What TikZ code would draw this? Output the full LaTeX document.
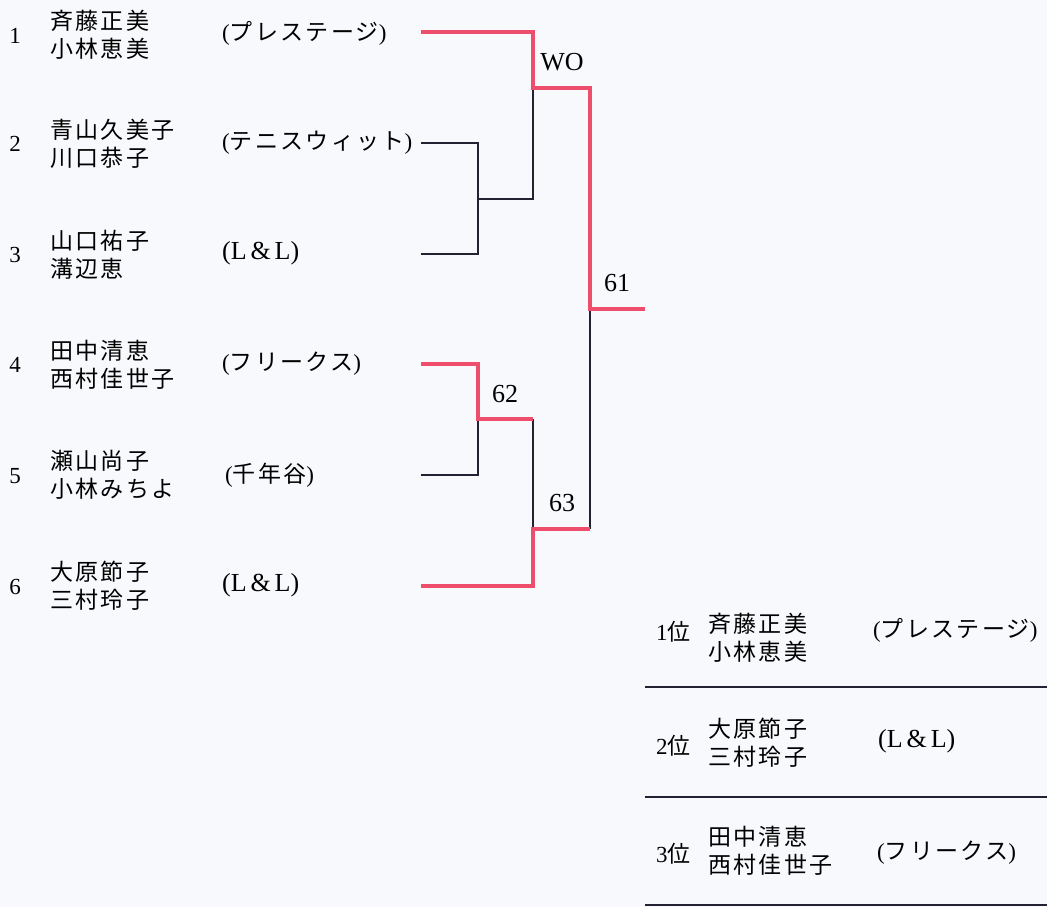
\documentclass[tikz,border=0pt]{standalone}
\usepackage{fontspec}
\setmainfont{Liberation Serif}
\newfontfamily\jp[LetterSpace=10]{Noto Sans CJK JP}
\definecolor{bred}{RGB}{238,78,108}
\definecolor{bdark}{RGB}{34,34,50}
\definecolor{paper}{RGB}{248,249,252}
\newcommand{\LL}{{\fontsize{26}{28}\selectfont(L\hspace{0.15em}\&\hspace{0.15em}L)}}
\begin{document}
\begin{tikzpicture}[x=1pt,y=-1pt,
  names/.style={anchor=west, align=left, inner sep=0pt, font=\fontsize{23}{28}\selectfont\jp},
  seed/.style={anchor=center, inner sep=0pt, font=\fontsize{23}{26}\selectfont},
  team/.style={anchor=west, inner sep=0pt, font=\fontsize{23}{28}\selectfont},
  score/.style={inner sep=0pt, font=\fontsize{26}{28}\selectfont},
  win/.style={line width=4pt, draw=bred},
  lose/.style={line width=2pt, draw=bdark},
  rulebar/.style={line width=2.5pt, draw=bdark}]
\useasboundingbox (0,0) rectangle (1047,907);
\fill[paper] (0,0) rectangle (1047,907);

% entries
\node[seed] (s1) at (15,36) {1};
\node[names] (n1) at (50,35) {斉藤正美\\小林恵美};
\node[team] (t1) at (222,33) {({\jp プレステージ})};

\node[seed] (s2) at (15,144) {2};
\node[names] (n2) at (50,144) {青山久美子\\川口恭子};
\node[team] (t2) at (222,143) {({\jp テニスウィット})};

\node[seed] (s3) at (15,255) {3};
\node[names] (n3) at (50,255) {山口祐子\\溝辺恵};
\node[team] (t3) at (222,253) {\LL};

\node[seed] (s4) at (15,365) {4};
\node[names] (n4) at (50,365) {田中清恵\\西村佳世子};
\node[team] (t4) at (222,364) {({\jp フリークス})};

\node[seed] (s5) at (15,476) {5};
\node[names] (n5) at (50,475) {瀬山尚子\\小林みちよ};
\node[team] (t5) at (225,475) {({\jp 千年谷})};

\node[seed] (s6) at (15,587) {6};
\node[names] (n6) at (50,586) {大原節子\\三村玲子};
\node[team] (t6) at (222,585) {\LL};

% bracket points
\coordinate (a1) at (421,32);
\coordinate (a2) at (421,143);
\coordinate (a3) at (421,254);
\coordinate (a4) at (421,364);
\coordinate (a5) at (421,475);
\coordinate (a6) at (421,586);
\coordinate (m23) at (478,199);
\coordinate (m45) at (478,419);
\coordinate (top) at (533,88);
\coordinate (bot) at (533,529);
\coordinate (fin) at (590,309);
\coordinate (champ) at (645,309);

% losing lines
\draw[lose] (a2) -| (m23) |- (a3);
\draw[lose] (m23) -| (top);
\draw[lose] (a5) -| (m45);
\draw[lose] (533,419) -- (bot);
\draw[lose] (590,529) -- (fin);

% winning lines
\draw[win] (a1) -| (top) -| (fin) -- (champ);
\draw[win] (a4) -| (m45) -- (533,419);
\draw[win] (a6) -| (bot) -- (590,529);

% scores
\node[score] (wo) at (562,62) {WO};
\node[score] (sc61) at (617,283) {61};
\node[score] (sc62) at (505,394) {62};
\node[score] (sc63) at (562,503) {63};

% results
\node[seed, anchor=west] (r1) at (656,632) {1{\jp 位}};
\node[names] (rn1) at (708,638) {斉藤正美\\小林恵美};
\node[team] (rt1) at (873,630) {({\jp プレステージ})};
\coordinate (l1a) at (645,687);
\coordinate (l1b) at (1047,687);
\draw[rulebar] (l1a) -- (l1b);

\node[seed, anchor=west] (r2) at (656,746) {2{\jp 位}};
\node[names] (rn2) at (708,743) {大原節子\\三村玲子};
\node[team] (rt2) at (878,741) {\LL};
\coordinate (l2a) at (645,797);
\coordinate (l2b) at (1047,797);
\draw[rulebar] (l2a) -- (l2b);

\node[seed, anchor=west] (r3) at (656,854) {3{\jp 位}};
\node[names] (rn3) at (708,851) {田中清恵\\西村佳世子};
\node[team] (rt3) at (877,853) {({\jp フリークス})};
\coordinate (l3a) at (645,905);
\coordinate (l3b) at (1047,905);
\draw[rulebar] (l3a) -- (l3b);
\end{tikzpicture}
\end{document}
